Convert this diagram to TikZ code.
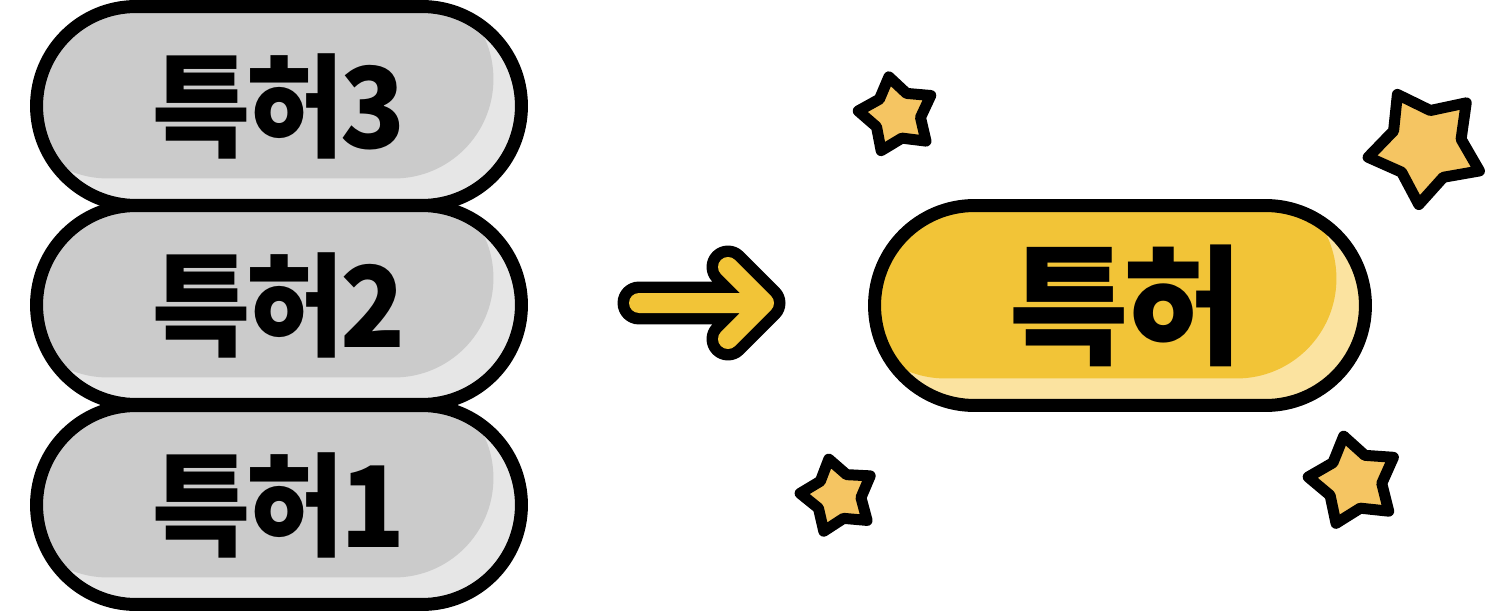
\documentclass[tikz,border=0pt]{standalone}
\usepackage{fontspec}
\usetikzlibrary{shapes.geometric}
\newfontfamily\krfont{Noto Sans CJK KR}[FakeStretch=0.95,LetterSpace=-4]
\newfontfamily\krwide{Noto Sans CJK KR}[LetterSpace=-4]
\definecolor{pillGray}      {HTML}{CBCBCB}
\definecolor{pillGrayLight} {HTML}{E6E6E6}
\definecolor{patYellow}     {HTML}{F2C437}
\definecolor{patYellowLight}{HTML}{FBE3A0}
\definecolor{starYellow}    {HTML}{F5C562}
\tikzset{
  oldpat/.style={rectangle,draw=black,line width=0.26cm,rounded corners=1.99cm,
    minimum width=9.7cm,minimum height=3.98cm,inner sep=0pt,text=black,
    font=\krfont\bfseries\fontsize{64}{64}\selectfont,
    path picture={
      \fill[pillGrayLight] (path picture bounding box.south west) rectangle (path picture bounding box.north east);
      \fill[pillGray,rounded corners=1.99cm] ([shift={(-28,-27)}]path picture bounding box.south west)
        rectangle ([shift={(-28,-27)}]path picture bounding box.north east);
    }},
  newpat/.style={rectangle,draw=black,line width=0.26cm,rounded corners=2cm,
    minimum width=9.82cm,minimum height=4cm,inner sep=0pt,text=black,
    font=\krwide\bfseries\fontsize{74}{74}\selectfont,
    path picture={
      \fill[patYellowLight] (path picture bounding box.south west) rectangle (path picture bounding box.north east);
      \fill[patYellow,rounded corners=2cm] ([shift={(-29,-27)}]path picture bounding box.south west)
        rectangle ([shift={(-29,-27)}]path picture bounding box.north east);
    }},
  sparkle/.style={star,star points=5,star point ratio=1.65,draw=black,line width=0.22cm,
    line join=round,fill=starYellow,inner sep=0pt},
  arrowout/.style={draw=black,line width=0.86cm,line cap=round,line join=round},
  arrowin/.style={draw=patYellow,line width=0.4cm,line cap=round,line join=round},
}

\begin{document}
\begin{tikzpicture}[x=0.02cm,y=-0.02cm]

\useasboundingbox (0,0) rectangle (1489,612);

\node[oldpat] (pat1) at (279,505) {\raisebox{0.12cm}{특허1}};
\node[oldpat] (pat2) at (279,305) {\raisebox{0.12cm}{특허2}};
\node[oldpat] (pat3) at (279,106) {\raisebox{0.12cm}{특허3}};

\node[newpat] (pat) at (1120,305.5) {\hspace*{0.26cm}특허};

\coordinate (arrstart) at (639,303);
\coordinate (arrtip) at (764,303);
\draw[arrowout] (arrstart) -- (arrtip) (arrtip) ++(-36,-36) -- (arrtip) -- ++(-36,36);
\draw[arrowin]  (arrstart) -- (arrtip) (arrtip) ++(-36,-36) -- (arrtip) -- ++(-36,36);

\node[sparkle,minimum size=1.56cm,rotate=12] (star1) at (897,115) {};
\node[sparkle,minimum size=2.36cm,rotate=29] (star2) at (1426,146) {};
\node[sparkle,minimum size=1.52cm,rotate=14] (star3) at (838,496) {};
\node[sparkle,minimum size=1.84cm,rotate=13] (star4) at (1354,481) {};

\end{tikzpicture}
\end{document}
